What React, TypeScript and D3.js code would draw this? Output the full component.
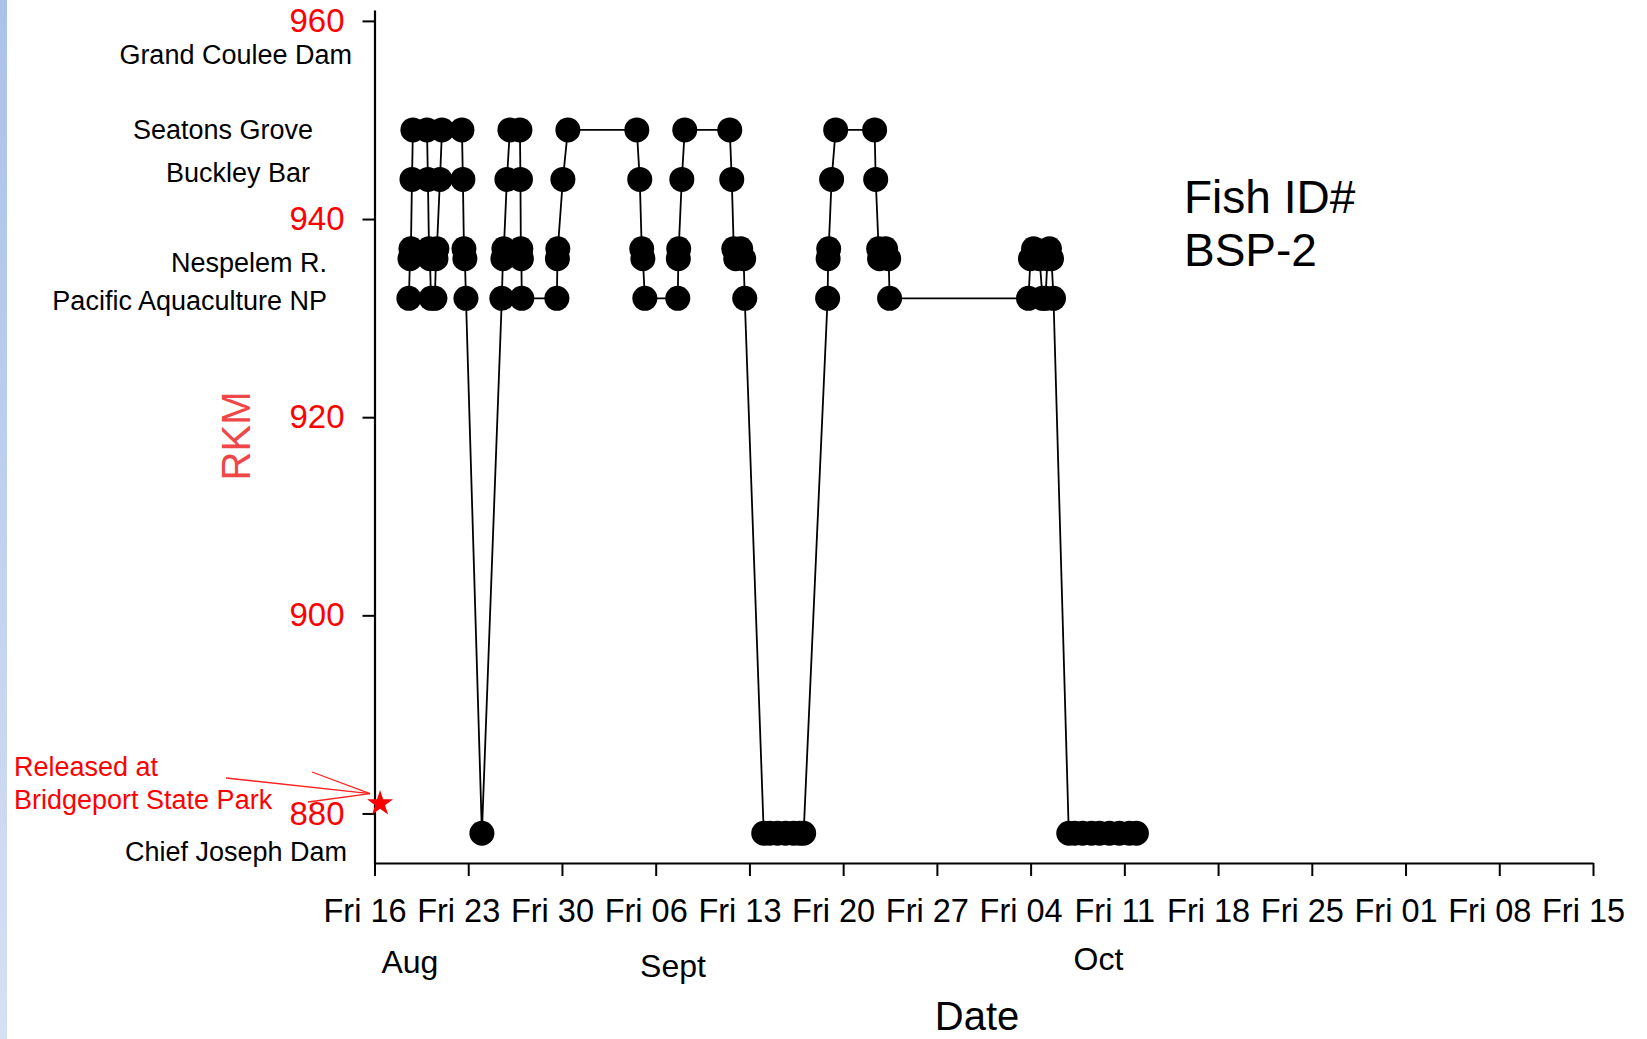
import React, { useRef, useEffect } from 'react';
import * as d3 from 'd3';

// detections for fish BSP-2 (date/time, river km)
const detectionTimes = [
  '2002-08-18 13:40', '2002-08-18 15:35', '2002-08-18 17:15', '2002-08-18 19:12', '2002-08-18 20:50',
  '2002-08-19 22:05', '2002-08-19 23:45', '2002-08-20 01:40', '2002-08-20 03:20', '2002-08-20 05:15',
  '2002-08-20 12:15', '2002-08-20 14:10', '2002-08-20 15:50', '2002-08-20 21:20', '2002-08-21 01:00',
  '2002-08-22 12:45', '2002-08-22 14:25', '2002-08-22 16:20', '2002-08-22 18:00', '2002-08-22 19:55',
  '2002-08-24 00:30',
  '2002-08-25 12:15', '2002-08-25 14:10', '2002-08-25 15:50', '2002-08-25 21:20', '2002-08-26 02:40',
  '2002-08-26 20:40', '2002-08-26 21:35', '2002-08-26 22:20', '2002-08-26 23:15', '2002-08-27 00:00',
  '2002-08-29 14:55', '2002-08-29 15:50', '2002-08-29 16:35', '2002-08-30 01:40', '2002-08-30 10:35',
  '2002-09-04 14:10', '2002-09-04 19:25', '2002-09-04 23:00', '2002-09-05 01:00', '2002-09-05 04:35',
  '2002-09-07 15:35', '2002-09-07 16:35', '2002-09-07 17:15', '2002-09-07 22:50', '2002-09-08 04:05',
  '2002-09-11 12:45', '2002-09-11 16:20', '2002-09-11 19:55', '2002-09-11 23:30', '2002-09-12 08:25',
  '2002-09-12 13:40', '2002-09-12 15:35',
  '2002-09-14 01:40', '2002-09-14 12:15', '2002-09-15 02:25', '2002-09-15 16:50', '2002-09-16 07:00',
  '2002-09-16 18:00', '2002-09-17 01:10',
  '2002-09-18 20:10', '2002-09-18 21:05', '2002-09-18 22:05', '2002-09-19 03:20', '2002-09-19 10:35',
  '2002-09-22 08:25', '2002-09-22 10:20', '2002-09-22 15:35', '2002-09-22 17:15', '2002-09-23 04:05',
  '2002-09-23 09:35', '2002-09-23 11:15',
  '2002-10-03 20:10', '2002-10-03 23:45', '2002-10-04 05:15', '2002-10-04 16:05', '2002-10-04 21:20',
  '2002-10-05 02:40', '2002-10-05 06:15', '2002-10-05 09:50', '2002-10-05 13:25', '2002-10-05 17:00',
  '2002-10-06 20:25', '2002-10-07 06:45', '2002-10-07 21:05', '2002-10-08 13:10', '2002-10-09 03:35',
  '2002-10-09 21:20', '2002-10-10 15:05', '2002-10-11 09:05', '2002-10-11 21:35',
];
const detectionRkm = [
  932, 936, 937, 944, 949,
  949, 944, 937, 936, 932,
  932, 936, 937, 944, 949,
  949, 944, 937, 936, 932,
  878,
  932, 936, 937, 944, 949,
  949, 944, 937, 936, 932,
  932, 936, 937, 944, 949,
  949, 944, 937, 936, 932,
  932, 936, 937, 944, 949,
  949, 944, 937, 936, 937,
  936, 932,
  878, 878, 878, 878, 878,
  878, 878,
  932, 936, 937, 944, 949,
  949, 944, 937, 936, 937,
  936, 932,
  932, 936, 937, 936, 932,
  932, 936, 937, 936, 932,
  878, 878, 878, 878, 878,
  878, 878, 878, 878,
];

const releaseTime = '2002-08-16 10:00';
const releaseRkm = 881;

const yTicks = [880, 900, 920, 940, 960];

// receiver site labels and the river km they sit at
const siteNames = ['Grand Coulee Dam', 'Seatons Grove', 'Buckley Bar', 'Nespelem R.', 'Pacific Aquaculture NP', 'Chief Joseph Dam'];
const siteRkm = [956.6, 949, 944.7, 935.6, 931.8, 876.2];
const siteLabelRight = [352, 313, 310, 327, 327, 347];

const monthNames = ['Aug', 'Sept', 'Oct'];
const monthAnchors = ['2002-08-18 15:30', '2002-09-07 07:00', '2002-10-09 01:40'];
const monthLabelY = [962, 966, 959];

const FONT = '"Liberation Sans", Arial, Helvetica, sans-serif';

const App = () => {
  const svgRef = useRef<SVGSVGElement>(null);

  useEffect(() => {
    const svg = d3.select(svgRef.current);
    svg.selectAll('*').remove();

    const parse = d3.timeParse('%Y-%m-%d %H:%M');
    const data = detectionTimes.map((t, i) => ({ date: parse(t) as Date, rkm: detectionRkm[i] }));

    const x = d3.scaleTime()
      .domain([new Date(2002, 7, 16), new Date(2002, 10, 15)])
      .range([374.5, 1593]);
    const y = d3.scaleLinear()
      .domain([875, 961.1])
      .range([863, 10]);

    // faint blue strip on the left edge
    const defs = svg.append('defs');
    const grad = defs.append('linearGradient')
      .attr('id', 'edge').attr('x1', 0).attr('y1', 0).attr('x2', 0).attr('y2', 1);
    grad.append('stop').attr('offset', '0%').attr('stop-color', '#aac1ea');
    grad.append('stop').attr('offset', '100%').attr('stop-color', '#d6e0f3');
    svg.append('rect').attr('x', 0).attr('y', 0).attr('width', 7).attr('height', 1039).attr('fill', 'url(#edge)');

    // axes
    const xAxis = d3.axisBottom(x)
      .tickValues(d3.timeFriday.range(new Date(2002, 7, 16), new Date(2002, 10, 16)))
      .tickFormat(d3.timeFormat('%a %d') as any)
      .tickSize(13)
      .tickPadding(23)
      .tickSizeOuter(0);
    const gx = svg.append('g')
      .attr('transform', 'translate(0,863)')
      .call(xAxis);
    gx.select('.domain').attr('stroke', '#000').attr('stroke-width', 2.2);
    gx.selectAll('.tick line').attr('stroke', '#000').attr('stroke-width', 2);
    gx.selectAll('.tick text')
      .attr('dx', -10)
      .attr('font-family', FONT).attr('font-size', 32.5).attr('fill', '#000');

    const yAxis = d3.axisLeft(y)
      .tickValues(yTicks)
      .tickSize(12)
      .tickPadding(18)
      .tickSizeOuter(0);
    const gy = svg.append('g')
      .attr('transform', 'translate(374.5,0)')
      .call(yAxis);
    gy.select('.domain').attr('stroke', '#000').attr('stroke-width', 2.2);
    gy.selectAll('.tick line').attr('stroke', '#000').attr('stroke-width', 2);
    gy.selectAll('.tick text')
      .attr('font-family', FONT).attr('font-size', 33).attr('fill', '#ff0000');

    // axis titles
    svg.append('text')
      .attr('transform', 'translate(236,436) rotate(-90)')
      .attr('text-anchor', 'middle').attr('dy', '0.35em')
      .attr('font-family', FONT).attr('font-size', 40).attr('fill', '#ef4747')
      .text('RKM');
    svg.append('text')
      .attr('x', 977).attr('y', 1016).attr('dy', '0.35em')
      .attr('text-anchor', 'middle')
      .attr('font-family', FONT).attr('font-size', 40).attr('fill', '#000')
      .text('Date');

    // month labels under the weekly ticks
    monthNames.forEach((m, i) => {
      svg.append('text')
        .attr('x', x(parse(monthAnchors[i]) as Date)).attr('y', monthLabelY[i]).attr('dy', '0.35em')
        .attr('text-anchor', 'middle')
        .attr('font-family', FONT).attr('font-size', 32).attr('fill', '#000')
        .text(m);
    });

    // site labels
    siteNames.forEach((s, i) => {
      svg.append('text')
        .attr('x', siteLabelRight[i]).attr('y', y(siteRkm[i])).attr('dy', '0.35em')
        .attr('text-anchor', 'end')
        .attr('font-family', FONT).attr('font-size', 27).attr('fill', '#000')
        .text(s);
    });

    // track line + detections
    const line = d3.line<{ date: Date; rkm: number }>()
      .x(d => x(d.date))
      .y(d => y(d.rkm));
    svg.append('path')
      .datum(data)
      .attr('d', line)
      .attr('fill', 'none')
      .attr('stroke', '#000')
      .attr('stroke-width', 1.8);
    svg.selectAll('circle.det')
      .data(data)
      .enter()
      .append('circle')
      .attr('class', 'det')
      .attr('cx', d => x(d.date))
      .attr('cy', d => y(d.rkm))
      .attr('r', 12.5)
      .attr('fill', '#000');

    // release annotation
    const rx = x(parse(releaseTime) as Date);
    const ry = y(releaseRkm);
    svg.append('path')
      .attr('d', d3.symbol().type(d3.symbolStar).size(210)())
      .attr('transform', `translate(${rx},${ry})`)
      .attr('fill', '#ff0000');
    const tipX = rx - 10;
    const tipY = ry - 10;
    [[226, 778], [312, 772], [308, 802]].forEach(([sx, sy]) => {
      svg.append('line')
        .attr('x1', sx).attr('y1', sy).attr('x2', tipX).attr('y2', tipY)
        .attr('stroke', '#ff2020').attr('stroke-width', 1.3);
    });
    svg.append('text')
      .attr('x', 14).attr('y', 767).attr('dy', '0.35em')
      .attr('font-family', FONT).attr('font-size', 27).attr('fill', '#ff0000')
      .text('Released at');
    svg.append('text')
      .attr('x', 14).attr('y', 800).attr('dy', '0.35em')
      .attr('font-family', FONT).attr('font-size', 27).attr('fill', '#ff0000')
      .text('Bridgeport State Park');

    // fish id
    svg.append('text')
      .attr('x', 1184).attr('y', 197).attr('dy', '0.35em')
      .attr('font-family', FONT).attr('font-size', 46).attr('fill', '#000')
      .text('Fish ID#');
    svg.append('text')
      .attr('x', 1184).attr('y', 250).attr('dy', '0.35em')
      .attr('font-family', FONT).attr('font-size', 46).attr('fill', '#000')
      .text('BSP-2');
  }, []);

  return (
    <svg
      ref={svgRef}
      width={1647}
      height={1039}
      style={{ position: 'absolute', left: 0, top: 0, display: 'block', background: '#fff' }}
    />
  );
};

export default App;
